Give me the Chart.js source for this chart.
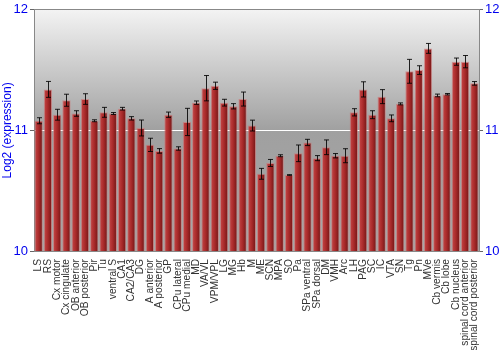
<!DOCTYPE html>
<html>
<head>
<meta charset="utf-8">
<script src="https://cdn.jsdelivr.net/npm/chart.js@4/dist/chart.umd.min.js"></script>
<style>
  html, body { margin: 0; padding: 0; background: #fff; }
  #wrap { width: 500px; height: 350px; }
</style>
</head>
<body>
<div id="wrap"><canvas id="exprChart"></canvas></div>
<script>
// Brain regions (x categories)
const regions = ['LS', 'RS', 'Cx motor', 'Cx cingulate', 'OB anterior', 'OB posterior', 'Pir', 'Tu',
  'ventral S', 'CA1', 'CA2/CA3', 'DG', 'A anterior', 'A posterior', 'GP', 'CPu lateral', 'CPu medial',
  'MD', 'VA/VL', 'VPM/VPL', 'LG', 'MG', 'Hb', 'M', 'ME', 'SCN', 'MPA', 'SO', 'Pa', 'SPa ventral',
  'SPa dorsal', 'DM', 'VMH', 'Arc', 'LH', 'PAG', 'SC', 'IC', 'VTA', 'SN', 'Tg', 'Pn', 'MVe',
  'Cb vermis', 'Cb lobe', 'Cb nucleus', 'spinal cord anterior', 'spinal cord posterior'];

// Mean log2 expression per region
const expression = [11.08, 11.34, 11.13, 11.25, 11.14, 11.26, 11.08, 11.15,
  11.14, 11.18, 11.10, 11.02, 10.88, 10.83, 11.13, 10.85, 11.07,
  11.23, 11.35, 11.37, 11.23, 11.20, 11.26, 11.04, 10.64, 10.73, 10.79, 10.63, 10.81, 10.90,
  10.77, 10.86, 10.79, 10.79, 11.15, 11.34, 11.13, 11.28, 11.10, 11.22, 11.49, 11.50, 11.68,
  11.29, 11.30, 11.57, 11.57, 11.39];

// Error (+/-) per region
const errors = [0.025, 0.066, 0.045, 0.05, 0.023, 0.044, 0.008, 0.041,
  0.008, 0.011, 0.014, 0.066, 0.055, 0.019, 0.022, 0.014, 0.113,
  0.014, 0.105, 0.03, 0.028, 0.022, 0.058, 0.045, 0.045, 0.029, 0.008, 0.003, 0.069, 0.026,
  0.021, 0.061, 0.018, 0.058, 0.03, 0.063, 0.033, 0.058, 0.028, 0.008, 0.099, 0.036, 0.041,
  0.011, 0.006, 0.03, 0.051, 0.015];

const yTicks = [10, 11, 12];

// gray gradient behind the plot
const plotBackground = {
  id: 'plotBackground',
  beforeDraw(chart) {
    const { ctx, chartArea: a } = chart;
    const g = ctx.createLinearGradient(0, a.top, 0, a.bottom);
    g.addColorStop(0, '#f3f3f3');
    g.addColorStop(0.5, '#a0a0a0');
    g.addColorStop(1, '#a8a8a8');
    ctx.save();
    ctx.fillStyle = g;
    ctx.fillRect(a.left, a.top, a.right - a.left, a.bottom - a.top);
    ctx.restore();
  }
};

// error bars drawn on top of the bars
const errorBars = {
  id: 'errorBars',
  afterDatasetsDraw(chart) {
    const { ctx } = chart;
    const y = chart.scales.y;
    const meta = chart.getDatasetMeta(0);
    ctx.save();
    ctx.strokeStyle = 'rgba(0,0,0,0.85)';
    ctx.lineWidth = 1;
    meta.data.forEach((bar, i) => {
      const x = Math.round(bar.x) + 0.5;
      const top = y.getPixelForValue(expression[i] + errors[i]);
      const bot = y.getPixelForValue(expression[i] - errors[i]);
      ctx.beginPath();
      ctx.moveTo(x, top); ctx.lineTo(x, bot);
      ctx.moveTo(x - 2.5, top); ctx.lineTo(x + 2.5, top);
      ctx.moveTo(x - 2.5, bot); ctx.lineTo(x + 2.5, bot);
      ctx.stroke();
    });
    ctx.restore();
  }
};

function barFill(context) {
  const chart = context.chart;
  if (!chart.chartArea) return '#a83030';
  const xs = chart.scales.x;
  const cx = xs.getPixelForValue(context.dataIndex);
  const half = (xs.width / regions.length) * 0.45;
  const g = chart.ctx.createLinearGradient(cx - half, 0, cx + half, 0);
  g.addColorStop(0, '#c84848');
  g.addColorStop(0.5, '#a82a2a');
  g.addColorStop(1, '#6e1414');
  return g;
}

function gridColor(ctx) {
  if (ctx.tick && ctx.tick.value === 11) return '#ffffff';
  if (ctx.tick && ctx.tick.value === 12) return '#888888';
  return 'rgba(0,0,0,0)';
}

const ctx = document.getElementById('exprChart').getContext('2d');
new Chart(ctx, {
  type: 'bar',
  data: {
    labels: regions,
    datasets: [{
      data: expression,
      backgroundColor: barFill,
      borderColor: 'rgba(210,110,110,0.6)',
      borderWidth: 1,
      borderSkipped: 'bottom',
      categoryPercentage: 1,
      barPercentage: 0.9
    }]
  },
  options: {
    responsive: true,
    maintainAspectRatio: false,
    animation: false,
    layout: { padding: { top: 9, right: 0, left: 0, bottom: 0 } },
    plugins: { legend: { display: false }, tooltip: { enabled: false } },
    scales: {
      x: {
        grid: { display: false },
        border: { color: '#888' },
        ticks: {
          autoSkip: false, minRotation: 90, maxRotation: 90, padding: 0,
          color: '#333', font: { family: 'Liberation Sans', size: 10.2 }
        },
        afterFit(scale) { scale.height = 99; }
      },
      y: {
        position: 'left',
        min: 10, max: 12,
        afterBuildTicks(scale) { scale.ticks = yTicks.map(v => ({ value: v })); },
        grid: { color: gridColor, tickColor: '#666', tickLength: 4 },
        border: { color: '#888' },
        ticks: { color: '#0000ee', padding: 2, font: { family: 'Liberation Sans', size: 13 } },
        title: {
          display: true, text: 'Log2 (expression)', color: '#0000ee', padding: 0,
          font: { family: 'Liberation Sans', size: 12 }
        },
        afterFit(scale) { scale.width = 34; }
      },
      y2: {
        position: 'right',
        min: 10, max: 12,
        afterBuildTicks(scale) { scale.ticks = yTicks.map(v => ({ value: v })); },
        grid: { drawOnChartArea: false, tickColor: '#666', tickLength: 4 },
        border: { color: '#888' },
        ticks: { color: '#0000ee', padding: 2, font: { family: 'Liberation Sans', size: 13 } },
        afterFit(scale) { scale.width = 21; }
      }
    }
  },
  plugins: [plotBackground, errorBars]
});
</script>
</body>
</html>
